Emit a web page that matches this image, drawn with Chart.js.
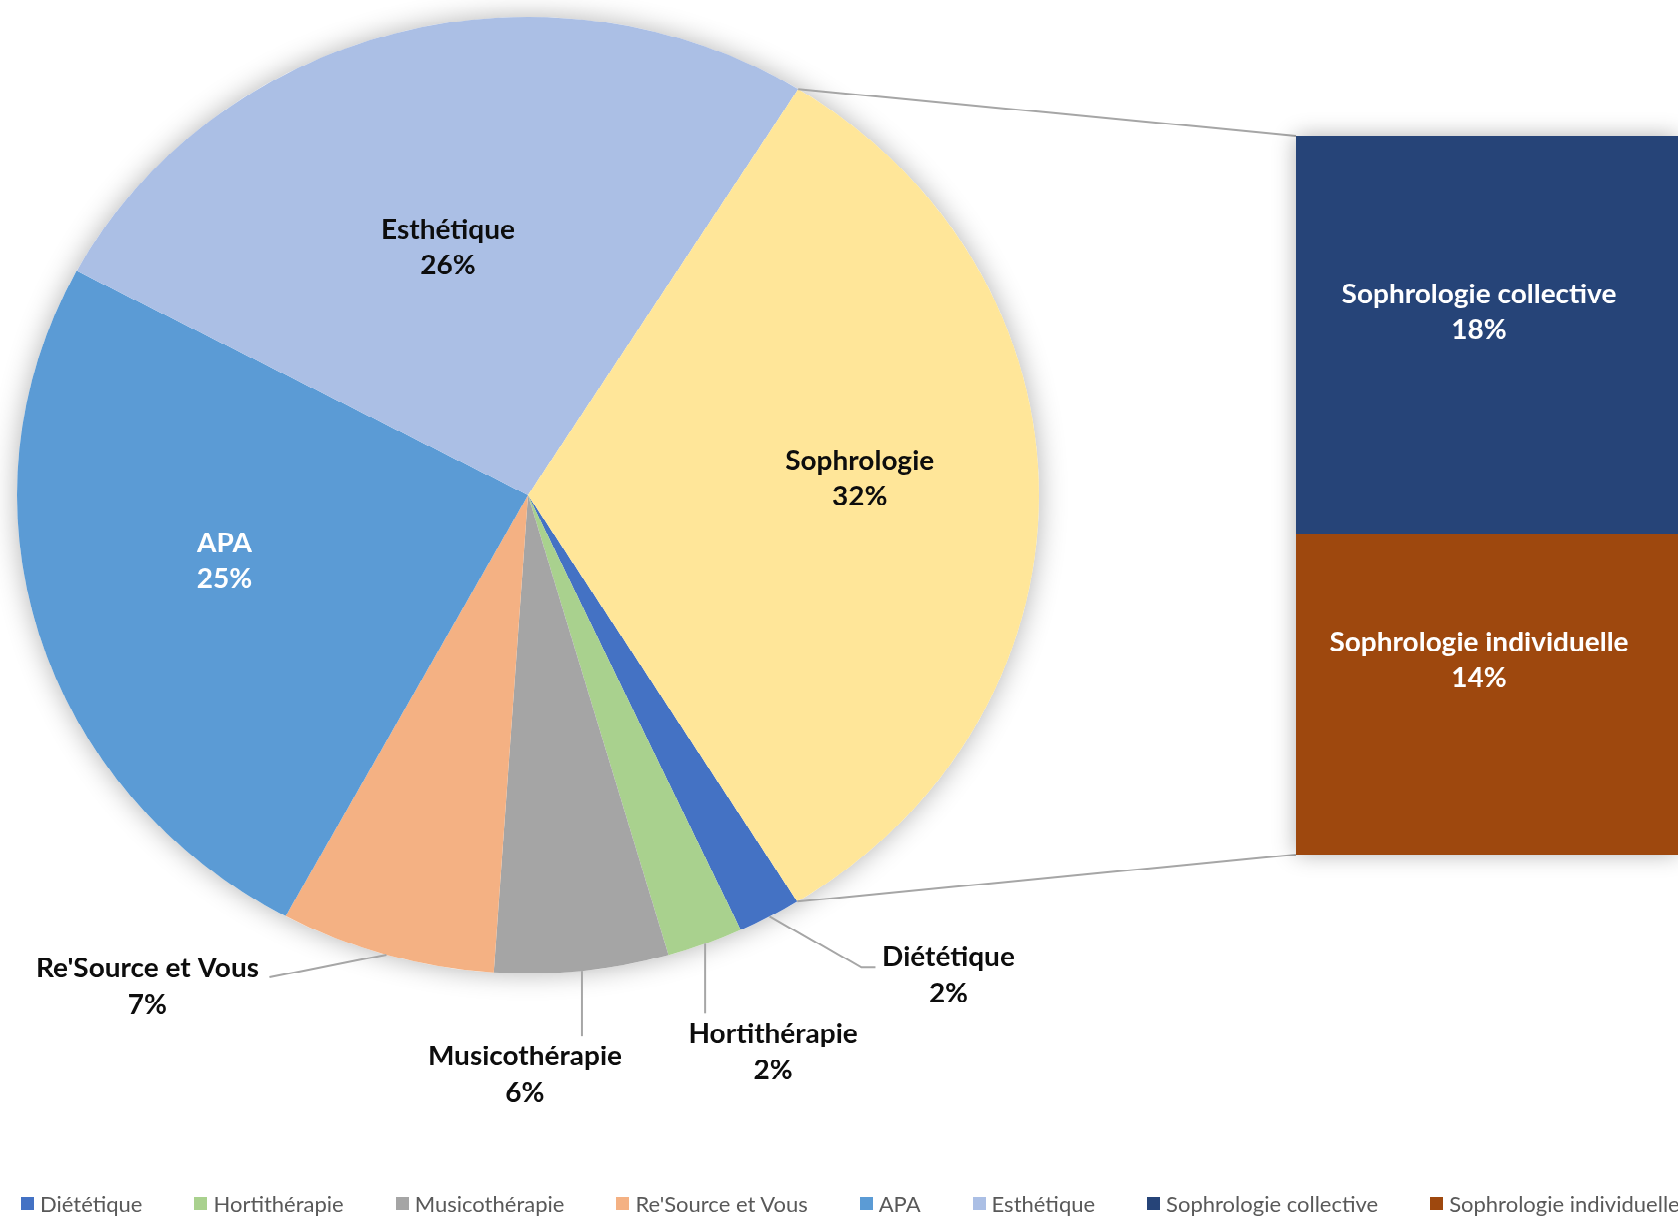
<!DOCTYPE html>
<html>
<head>
<meta charset="utf-8">
<script src="https://cdn.jsdelivr.net/npm/chart.js@4.4.1/dist/chart.umd.min.js"></script>
<style>
html,body{margin:0;padding:0;background:#fff;overflow:hidden;width:1678px;height:1217px;}
#stage{position:absolute;left:0;top:0;width:1678px;height:1300px;transform:scaleY(0.936);transform-origin:0 0;}
#pie{position:absolute;left:0;top:0;}
#bar{position:absolute;left:1256px;top:105px;}
#legend{position:absolute;left:21px;top:1190px;display:flex;white-space:nowrap;font:22px Lato, sans-serif;color:#595959;}
.item{display:flex;align-items:center;margin-right:52px;}
.box{width:13px;height:13px;margin-right:6px;}
</style>
</head>
<body>
<div id="stage">
  <canvas id="pie" width="1678" height="1300"></canvas>
  <canvas id="bar" width="460" height="848"></canvas>
</div>
<div id="legend"></div>
<script>
// main pie (Sophrologie is split out into the bar)
const pieLabels = ['Diététique', 'Hortithérapie', 'Musicothérapie', "Re'Source et Vous", 'APA', 'Esthétique'];
const pieValues = [2.0, 2.4, 5.5, 6.8, 24.9, 26.1];
const pieColors = ['#4472C4', '#A9D18E', '#A5A5A5', '#F4B183', '#5B9BD5', '#ABBFE5'];

const otherLabel = 'Sophrologie';
const otherColor = '#FFE699';

const subLabels = ['Sophrologie collective', 'Sophrologie individuelle'];
const subValues = [17.9, 14.4];
const subColors = ['#264478', '#9E480E'];

const subTotal = subValues.reduce((a, b) => a + b, 0);
const allLabels = pieLabels.concat([otherLabel]);
const allValues = pieValues.concat([subTotal]);
const allColors = pieColors.concat([otherColor]);
const total = allValues.reduce((a, b) => a + b, 0);
const pct = v => Math.round(v / total * 100) + '%';

const FONT = 'bold 28px Lato, sans-serif';
const LINE_H = 38.5;
const LEADER = '#A6A6A6';

// bar of the split slice
const barLabelShift = [-36, -24];
const barDeco = {
  id: 'barDeco',
  beforeDatasetsDraw(chart) {
    const top = chart.getDatasetMeta(1).data[0];
    const bot = chart.getDatasetMeta(0).data[0];
    const ctx = chart.ctx;
    ctx.save();
    ctx.shadowColor = 'rgba(0,0,0,0.3)';
    ctx.shadowBlur = 22;
    ctx.fillStyle = '#fff';
    ctx.fillRect(top.x - top.width / 2, top.y, top.width, bot.base - top.y);
    ctx.restore();
  },
  afterDatasetsDraw(chart) {
    const ctx = chart.ctx;
    ctx.save();
    ctx.font = FONT;
    ctx.fillStyle = '#fff';
    ctx.textAlign = 'center';
    ctx.textBaseline = 'middle';
    chart.data.datasets.forEach((ds, i) => {
      const el = chart.getDatasetMeta(i).data[0];
      const cy = (el.y + el.base) / 2 + barLabelShift[i];
      ctx.fillText(ds.label, el.x - 8, cy - LINE_H / 2);
      ctx.fillText(pct(ds.data[0]), el.x - 8, cy + LINE_H / 2);
    });
    ctx.restore();
  }
};

const barChart = new Chart(document.getElementById('bar'), {
  type: 'bar',
  data: {
    labels: [otherLabel],
    datasets: [
      { label: subLabels[1], data: [subValues[1]], backgroundColor: subColors[1], barPercentage: 1, categoryPercentage: 1 },
      { label: subLabels[0], data: [subValues[0]], backgroundColor: subColors[0], barPercentage: 1, categoryPercentage: 1 }
    ]
  },
  options: {
    responsive: false,
    animation: false,
    layout: { padding: { left: 40, top: 40, right: 38, bottom: 40 } },
    scales: {
      x: { stacked: true, display: false },
      y: { stacked: true, display: false, min: 0, max: subTotal }
    },
    plugins: { legend: { display: false }, tooltip: { enabled: false } }
  },
  plugins: [barDeco]
});

// label placement for the pie
const inside = {
  4: { r: 0.61, da: 3.7, color: '#fff' },
  5: { r: 0.54, da: -1.8, color: '#0D0D0D' },
  6: { r: 0.65, da: -3, color: '#0D0D0D' }
};
const outside = {
  0: { path: [[92, 54], [106, 54]], text: [179, 44] },
  1: { path: [[0, 74]], text: [68, 97] },
  2: { path: [[0, 70]], text: [-57, 92] },
  3: { path: [[-117, 24]], text: [-239, 15] }
};

const pieDeco = {
  id: 'pieDeco',
  beforeDatasetsDraw(chart) {
    const a = chart.getDatasetMeta(0).data[0];
    const ctx = chart.ctx;
    ctx.save();
    ctx.shadowColor = 'rgba(0,0,0,0.3)';
    ctx.shadowBlur = 28;
    ctx.fillStyle = '#fff';
    ctx.beginPath();
    ctx.arc(a.x, a.y, a.outerRadius, 0, Math.PI * 2);
    ctx.fill();
    ctx.restore();
  },
  afterDatasetsDraw(chart) {
    const ctx = chart.ctx;
    const arcs = chart.getDatasetMeta(0).data;
    const bar = document.getElementById('bar');
    const bx = bar.offsetLeft, by = bar.offsetTop;
    const topEl = barChart.getDatasetMeta(1).data[0];
    const botEl = barChart.getDatasetMeta(0).data[0];
    const barLeft = bx + topEl.x - topEl.width / 2;

    ctx.save();
    ctx.strokeStyle = LEADER;
    ctx.lineWidth = 2;
    // connectors to the bar
    const s = arcs[6];
    ctx.beginPath();
    ctx.moveTo(s.x + s.outerRadius * Math.cos(s.startAngle), s.y + s.outerRadius * Math.sin(s.startAngle));
    ctx.lineTo(barLeft, by + topEl.y);
    ctx.moveTo(s.x + s.outerRadius * Math.cos(s.endAngle), s.y + s.outerRadius * Math.sin(s.endAngle));
    ctx.lineTo(barLeft, by + botEl.base);
    ctx.stroke();

    ctx.font = FONT;
    ctx.textAlign = 'center';
    ctx.textBaseline = 'middle';
    arcs.forEach((a, i) => {
      const mid = (a.startAngle + a.endAngle) / 2;
      if (inside[i]) {
        const o = inside[i];
        const ang = mid + o.da * Math.PI / 180;
        const x = a.x + a.outerRadius * o.r * Math.cos(ang);
        const y = a.y + a.outerRadius * o.r * Math.sin(ang);
        ctx.fillStyle = o.color;
        ctx.fillText(allLabels[i], x, y - LINE_H / 2);
        ctx.fillText(pct(allValues[i]), x, y + LINE_H / 2);
      } else if (outside[i]) {
        const o = outside[i];
        const ex = a.x + a.outerRadius * Math.cos(mid);
        const ey = a.y + a.outerRadius * Math.sin(mid);
        ctx.beginPath();
        ctx.moveTo(ex, ey);
        o.path.forEach(p => ctx.lineTo(ex + p[0], ey + p[1]));
        ctx.stroke();
        ctx.fillStyle = '#0D0D0D';
        ctx.fillText(allLabels[i], ex + o.text[0], ey + o.text[1]);
        ctx.fillText(pct(allValues[i]), ex + o.text[0], ey + o.text[1] + LINE_H);
      }
    });
    ctx.restore();
  }
};

new Chart(document.getElementById('pie'), {
  type: 'pie',
  data: {
    labels: allLabels,
    datasets: [{ data: allValues, backgroundColor: allColors, borderWidth: 0 }]
  },
  options: {
    responsive: false,
    animation: false,
    rotation: 148.2,
    layout: { padding: { left: 17, top: 18, right: 639, bottom: 260 } },
    plugins: { legend: { display: false }, tooltip: { enabled: false } }
  },
  plugins: [pieDeco]
});

// legend row
const legend = document.getElementById('legend');
pieLabels.concat(subLabels).forEach((name, i) => {
  const color = pieColors.concat(subColors)[i];
  const item = document.createElement('div');
  item.className = 'item';
  const box = document.createElement('span');
  box.className = 'box';
  box.style.background = color;
  const txt = document.createElement('span');
  txt.textContent = name;
  item.appendChild(box);
  item.appendChild(txt);
  legend.appendChild(item);
});
</script>
</body>
</html>
